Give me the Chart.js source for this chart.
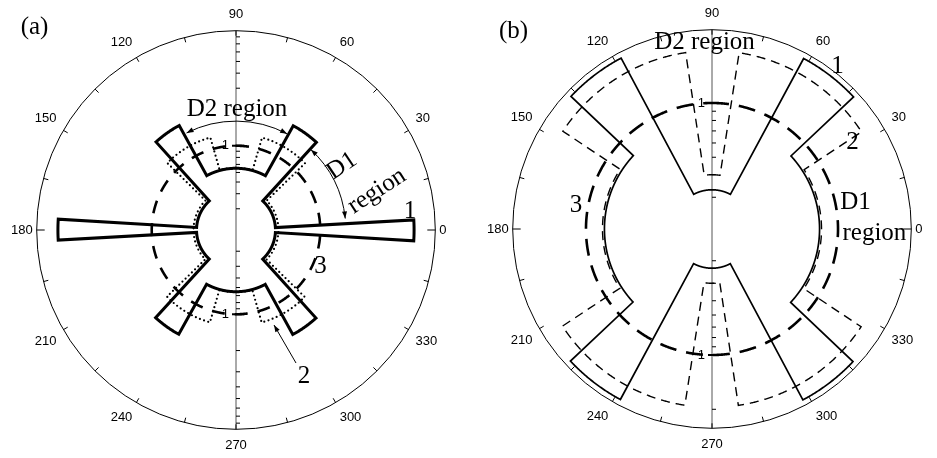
<!DOCTYPE html>
<html>
<head>
<meta charset="utf-8">
<script src="https://cdn.jsdelivr.net/npm/chart.js@4.4.1/dist/chart.umd.min.js"></script>
<style>
  html, body { margin: 0; padding: 0; background: #fff; }
  #wrap { position: relative; width: 937px; height: 458px; }
  canvas { position: absolute; top: 0; }
  #ca { left: 0; }
  #cb { left: 469px; }
</style>
</head>
<body>
<div id="wrap">
  <canvas id="ca" width="468" height="458"></canvas>
  <canvas id="cb" width="468" height="458"></canvas>
</div>
<script>
// one category every 0.25 deg, running clockwise from the top (90 deg)
var STEP = 0.25;
var N = 360 / STEP;

// angle labels shown on the rim
var angleTicks = [0, 30, 60, 90, 120, 150, 180, 210, 240, 270, 300, 330];

// ---- panel (a) ----
var aRange = [0.2, 9];                       // log radial axis
var aRadialTicks = [0.3, 0.4, 0.5, 0.6, 0.7, 0.8, 0.9, 1, 2, 3, 4, 5, 6, 7, 8];
// curve 1 (solid): angle where a step starts, radius from there on
var a1Edges = [3.5, 47.5, 61.5, 118.5, 132.5, 176.5, 183.5, 227.5, 241.5, 298.5, 312.5, 356.5];
var a1Radii = [0.425, 1.94, 0.65, 1.94, 0.425, 6.0, 0.425, 1.94, 0.65, 1.94, 0.425, 6.0];
// curve 2 (dotted)
var a2Edges = [44, 74.5, 105.5, 136, 224, 254.5, 285.5, 316];
var a2Radii = [1.25, 0.655, 1.25, 0.45, 1.25, 0.655, 1.25, 0.45];
// curve 3 (dashed)
var a3Edges = [0];
var a3Radii = [1];

// ---- panel (b) ----
var bRange = [0.2, 2.55];
var bRadialTicks = [0.3, 0.4, 0.5, 0.6, 0.7, 0.8, 0.9, 1, 2];
var b1Edges = [43, 62, 118, 137, 223, 242, 298, 317];
var b1Radii = [2.37, 0.33, 2.37, 0.79, 2.37, 0.33, 2.37, 0.79];
var b2Edges = [33, 81.5, 98.5, 147, 213, 261.5, 278.5, 327];
var b2Radii = [1.95, 0.40, 1.95, 0.81, 1.95, 0.40, 1.95, 0.81];
var b3Edges = [0];
var b3Radii = [1];

function angleAt(i) { return ((90 - i * STEP) % 360 + 360) % 360; }
function indexOfAngle(deg) { return (((90 - deg) / STEP) % N + N) % N; }

var labels = [];
for (var i = 0; i < N; i++) labels.push(angleAt(i));

// value of a step curve at every category, in log10 units for the radial axis
function stepSeries(edges, radii) {
  var out = [];
  for (var i = 0; i < N; i++) {
    var deg = angleAt(i);
    var k = radii.length - 1;
    for (var j = 0; j < edges.length; j++) {
      if (deg >= edges[j]) k = j;
    }
    out.push(Math.log10(radii[k]));
  }
  return out;
}

function curve(edges, radii, width, dash, cap) {
  return {
    data: stepSeries(edges, radii),
    borderColor: '#000',
    borderWidth: width,
    borderDash: dash || [],
    borderCapStyle: cap || 'butt',
    borderJoinStyle: 'miter',
    fill: false,
    pointRadius: 0,
    pointHitRadius: 0
  };
}

function head(ctx, x, y, ux, uy) {
  var nx = -uy, ny = ux;
  ctx.beginPath();
  ctx.moveTo(x, y);
  ctx.lineTo(x - 7 * ux + 2.5 * nx, y - 7 * uy + 2.5 * ny);
  ctx.lineTo(x - 7 * ux - 2.5 * nx, y - 7 * uy - 2.5 * ny);
  ctx.closePath();
  ctx.fill();
}

// rim ticks, radial axis ticks, labels and arrows
var polarDeco = {
  id: 'polarDeco',
  afterDraw: function (chart, args, o) {
    var s = chart.scales.r, ctx = chart.ctx;
    var cx = s.xCenter, cy = s.yCenter, R = s.drawingArea;
    ctx.save();
    ctx.strokeStyle = '#000';
    ctx.fillStyle = '#000';
    ctx.lineWidth = 1;

    for (var d = 0; d < 360; d += 15) {
      var idx = indexOfAngle(d);
      var len = d % 180 === 0 ? 8 : 5;
      var p1 = s.getPointPosition(idx, R), p2 = s.getPointPosition(idx, R - len);
      ctx.beginPath(); ctx.moveTo(p1.x, p1.y); ctx.lineTo(p2.x, p2.y); ctx.stroke();
    }

    ctx.font = '13px "Liberation Sans"';
    ctx.textAlign = 'right';
    ctx.textBaseline = 'middle';
    o.ticks.forEach(function (v) {
      var dist = s.getDistanceFromCenterForValue(Math.log10(v));
      [-1, 1].forEach(function (sg) {
        var y = cy + sg * dist;
        ctx.beginPath();
        if (v === 1) {
          ctx.lineWidth = 2;
          ctx.moveTo(cx - 4, y); ctx.lineTo(cx + 8, y);
        } else {
          ctx.lineWidth = 1;
          ctx.moveTo(cx, y); ctx.lineTo(cx + 4, y);
        }
        ctx.stroke();
        if (v === 1) ctx.fillText('1', cx - 7, y);
      });
    });

    ctx.lineWidth = 1;
    o.arcs.forEach(function (a) {
      var r = s.getDistanceFromCenterForValue(Math.log10(a.value));
      var t1 = a.from * Math.PI / 180, t2 = a.to * Math.PI / 180;
      var sg = t2 > t1 ? 1 : -1;
      ctx.beginPath();
      ctx.arc(cx, cy, r, -t1, -t2, t2 > t1);
      ctx.stroke();
      head(ctx, cx + r * Math.cos(t2), cy - r * Math.sin(t2), -sg * Math.sin(t2), -sg * Math.cos(t2));
      head(ctx, cx + r * Math.cos(t1), cy - r * Math.sin(t1), sg * Math.sin(t1), sg * Math.cos(t1));
    });

    o.arrows.forEach(function (a) {
      var x1 = cx + a.x1, y1 = cy + a.y1, x2 = cx + a.x2, y2 = cy + a.y2;
      var L = Math.hypot(x2 - x1, y2 - y1);
      ctx.beginPath(); ctx.moveTo(x1, y1); ctx.lineTo(x2, y2); ctx.stroke();
      head(ctx, x2, y2, (x2 - x1) / L, (y2 - y1) / L);
    });

    ctx.font = '25px "Liberation Serif"';
    o.notes.forEach(function (n) {
      ctx.save();
      ctx.translate(cx + n.dx, cy + n.dy);
      if (n.rot) ctx.rotate(n.rot * Math.PI / 180);
      ctx.textAlign = n.align || 'center';
      ctx.textBaseline = n.mid ? 'middle' : 'alphabetic';
      ctx.fillText(n.text, 0, 0);
      ctx.restore();
    });
    ctx.restore();
  }
};

function makePanel(id, range, datasets, padding, deco) {
  return new Chart(document.getElementById(id), {
    type: 'radar',
    data: { labels: labels, datasets: datasets },
    options: {
      responsive: false,
      animation: false,
      events: [],
      layout: { padding: padding },
      plugins: { legend: { display: false }, tooltip: { enabled: false }, polarDeco: deco },
      scales: {
        r: {
          min: Math.log10(range[0]),
          max: Math.log10(range[1]),
          startAngle: 0,
          ticks: { display: false },
          afterBuildTicks: function (sc) { sc.ticks = [{ value: sc.min }, { value: sc.max }]; },
          grid: {
            circular: true,
            lineWidth: 1,
            color: function (c) { return c.index === 1 ? '#000' : 'rgba(0,0,0,0)'; }
          },
          angleLines: {
            color: '#555',
            lineWidth: function (c) { return (c.index === 0 || c.index === N / 2) ? 1 : 0; }
          },
          pointLabels: {
            color: '#000',
            callback: function (label) { return angleTicks.indexOf(label) >= 0 ? String(label) : ''; },
            padding: function (c) {
              var a = angleAt(c.index);
              if (angleTicks.indexOf(a) < 0) return 0;
              return (a === 0 || a === 180) ? 4 : 8;
            },
            font: function (c) {
              return angleTicks.indexOf(angleAt(c.index)) >= 0
                ? { family: 'Liberation Sans', size: 13 }
                : { family: 'Liberation Sans', size: 13, lineHeight: 0 };
            }
          }
        }
      }
    },
    plugins: [polarDeco]
  });
}

makePanel('ca', aRange, [
  curve(a1Edges, a1Radii, 3),
  curve(a2Edges, a2Radii, 2.2, [0, 4.4], 'round'),
  curve(a3Edges, a3Radii, 2.6, [13, 10])
], { left: 4, right: 14, top: 6, bottom: 2 }, {
  ticks: aRadialTicks,
  arcs: [{ value: 1.6, from: 117, to: 62 }, { value: 1.63, from: 47, to: 6 }],
  arrows: [{ x1: 60, y1: 133, x2: 38, y2: 95 }],
  notes: [
    { text: '(a)', dx: -201.5, dy: -195.7 },
    { text: 'D2 region', dx: 1, dy: -113.7 },
    { text: 'D1', dx: 106, dy: -64, rot: -34, mid: true },
    { text: 'region', dx: 141, dy: -39, rot: -33, mid: true },
    { text: '1', dx: 174, dy: -19, mid: true },
    { text: '3', dx: 84.5, dy: 36.3, mid: true },
    { text: '2', dx: 68, dy: 146, mid: true }
  ]
});

makePanel('cb', bRange, [
  curve(b1Edges, b1Radii, 1.7),
  curve(b2Edges, b2Radii, 1.4, [9, 6]),
  curve(b3Edges, b3Radii, 2.6, [17, 10])
], { left: 11, right: 7, top: 5, bottom: 3 }, {
  ticks: bRadialTicks,
  arcs: [],
  arrows: [],
  notes: [
    { text: '(b)', dx: -198.5, dy: -191.5 },
    { text: 'D2 region', dx: -7.5, dy: -180 },
    { text: '1', dx: 125.5, dy: -162.5, mid: true },
    { text: '2', dx: 140.5, dy: -86.5, mid: true },
    { text: 'D1', dx: 143.5, dy: -20 },
    { text: 'region', dx: 130.5, dy: 10.7, align: 'left' },
    { text: '3', dx: -136, dy: -24, mid: true }
  ]
});
</script>
</body>
</html>
